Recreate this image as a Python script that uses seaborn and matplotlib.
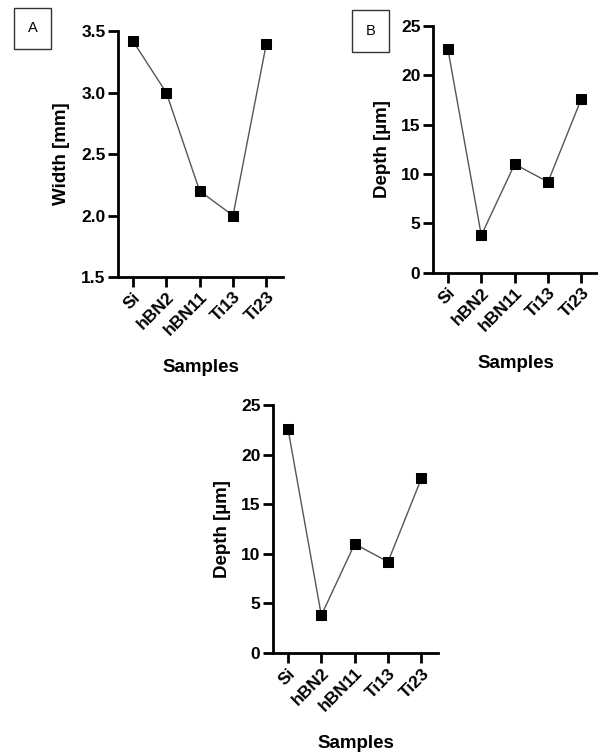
import matplotlib
matplotlib.use("Agg")
import matplotlib.pyplot as plt
import seaborn as sns
import pandas as pd

samples = ["Si", "hBN2", "hBN11", "Ti13", "Ti23"]
width_mm = [3.42, 3.0, 2.2, 2.0, 3.4]
depth_um = [22.6, 3.8, 11.0, 9.2, 17.6]

sns.set_style("ticks")
plt.rcParams['font.family'] = ['Liberation Sans', 'DejaVu Sans']
plt.rcParams['font.weight'] = 'bold'
plt.rcParams['text.color'] = 'black'
plt.rcParams['axes.labelcolor'] = 'black'

fig = plt.figure(figsize=(5.98, 7.56), dpi=100)

def panel(rect, vals, ylabel, ylim, yticks, yfmt, ylabelpad):
    ax = fig.add_axes(rect)
    df = pd.DataFrame({"Samples": samples, "v": vals})
    sns.lineplot(data=df, x="Samples", y="v", ax=ax, color="#555555", lw=1.0,
                 marker="s", markersize=6.5, markerfacecolor="black",
                 markeredgecolor="black", sort=False)
    ax.set_xlim(-0.45, 4.5)
    ax.set_ylim(*ylim)
    ax.set_yticks(yticks)
    ax.set_yticklabels([yfmt.format(t) for t in yticks], fontsize=12.5,
                       fontweight='bold', color='black')
    ax.set_xticks(range(len(samples)))
    ax.set_xticklabels(samples, rotation=45, ha='right', rotation_mode='anchor',
                       fontsize=12.5, fontweight='bold', color='black')
    ax.set_ylabel(ylabel, fontsize=13.5, fontweight='bold', labelpad=ylabelpad, color='black')
    ax.set_xlabel("Samples", fontsize=13.5, fontweight='bold', labelpad=15, color='black')
    for s in ["left", "bottom"]:
        ax.spines[s].set_linewidth(2.0)
        ax.spines[s].set_color("black")
    for s in ["top", "right"]:
        ax.spines[s].set_visible(False)
    ax.tick_params(axis='both', direction='out', length=7, width=2.0, colors='black', pad=2)
    ax.set_facecolor("white")
    return ax

panel([0.1973, 0.6336, 0.276, 0.325], width_mm, "Width [mm]", (1.5, 3.5),
      [1.5, 2.0, 2.5, 3.0, 3.5], "{:.1f}", 8)
panel([0.724, 0.639, 0.276, 0.327], depth_um, "Depth [µm]", (0, 25),
      [0, 5, 10, 15, 20, 25], "{:.0f}", 7)
panel([0.4565, 0.1362, 0.276, 0.328], depth_um, "Depth [µm]", (0, 25),
      [0, 5, 10, 15, 20, 25], "{:.0f}", 7)

box = dict(boxstyle="square,pad=0.95", fc="white", ec="#333333", lw=1)
fig.text(32.5/598, 1 - 28.5/756, "A", ha='center', va='center', fontsize=10.5,
         fontweight='normal', bbox=box)
fig.text(370.5/598, 1 - 31/756, "B", ha='center', va='center', fontsize=10.5,
         fontweight='normal', bbox=box)

fig.savefig("out.png", dpi=100, facecolor="white")
